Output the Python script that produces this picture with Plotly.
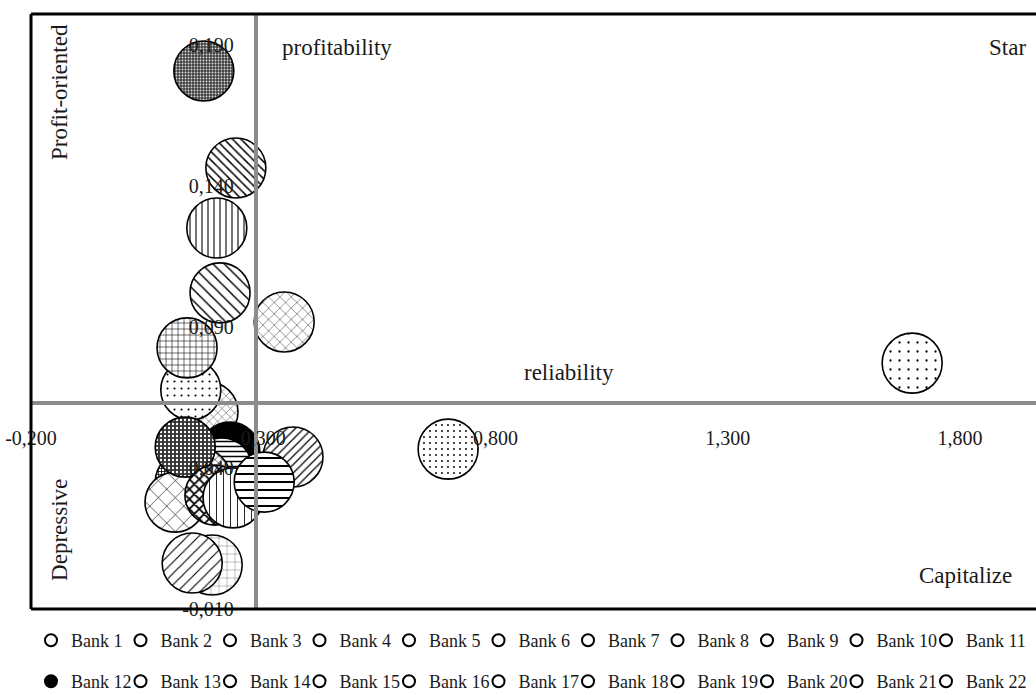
import numpy as np
import plotly.graph_objects as go

# ---------------- data ----------------
banks = [f"Bank {i}" for i in range(1, 23)]
reliability = [1.697, 0.172, 0.698, 0.181, 0.144, 0.136, 0.241, 0.207, 0.132, 0.200, 0.364,
               0.228, 0.211, 0.164, 0.110, 0.132, 0.196, 0.235, 0.190, 0.147, 0.345, 0.302]
profitability = [0.0772, 0.1808, 0.0467, 0.0599, 0.0677, 0.0826, 0.1464, 0.1021, 0.0350, 0.1251, 0.0439,
                 0.0457, 0.0400, 0.0365, 0.0279, 0.0474, 0.0304, 0.0294, 0.0056, 0.0063, 0.0918, 0.0350]
x_tickvals = [-0.2, 0.3, 0.8, 1.3, 1.8]
x_ticktext = ["-0,200", "0,300", "0,800", "1,300", "1,800"]
y_tickvals = [-0.01, 0.04, 0.09, 0.14, 0.19]
y_ticktext = ["-0,010", "0,040", "0,090", "0,140", "0,190"]
cross_x = 0.284   # where the vertical axis crosses
cross_y = 0.0629  # where the horizontal axis crosses

# ---------------- layout constants ----------------
W, H = 1036, 695
ML, MR, MT, MB = 31, 0, 14, 86
XR = [-0.2, 1.9636]
YR = [-0.01, 0.201]
BUBBLE_D = 60
plot_w = W - ML - MR
plot_h = H - MT - MB
rx = (BUBBLE_D / 2) / plot_w * (XR[1] - XR[0])
ry = (BUBBLE_D / 2) / plot_h * (YR[1] - YR[0])

SERIF = "Liberation Serif, Times New Roman, serif"

# pattern style per bank
styles = [
    dict(shape=".", size=9, solidity=0.05),
    dict(shape=".", size=3, solidity=0.3, bgcolor="#404040", fgcolor="#dddddd"),
    dict(shape=".", size=6, solidity=0.08),
    dict(shape="x", size=6, solidity=0.12),
    dict(shape=".", size=7, solidity=0.07),
    dict(shape="+", size=6, solidity=0.18),
    dict(shape="\\", size=6, solidity=0.25),
    dict(shape="\\", size=8, solidity=0.18),
    dict(shape="+", size=3, solidity=0.45),
    dict(shape="|", size=6, solidity=0.18),
    dict(shape="/", size=6, solidity=0.2),
    dict(shape="", bgcolor="black"),
    dict(shape="-", size=5, solidity=0.3),
    dict(shape="x", size=5, solidity=0.2),
    dict(shape="x", size=12, solidity=0.1),
    dict(shape=".", size=4, solidity=0.28, bgcolor="#333333", fgcolor="white"),
    dict(shape="x", size=7, solidity=0.45),
    dict(shape="|", size=7, solidity=0.12),
    dict(shape="+", size=8, solidity=0.06),
    dict(shape="/", size=8, solidity=0.14),
    dict(shape="x", size=8, solidity=0.1),
    dict(shape="-", size=8, solidity=0.25),
]

# legend grid: two rows of eleven entries
LEG_COLS = 11
LEG_X0, LEG_DX = 51, 89.5          # px of first symbol, px between entries
LEG_ROW_Y = [-0.053, -0.122]       # paper y of the two rows
SYMBOL_OFFSET = 20                 # plotly draws the symbol 20 px into the entry


def legend_id(i):
    return "legend" if i == 0 else f"legend{i + 1}"


t = np.linspace(0, 2 * np.pi, 90)
fig = go.Figure()
legend_layouts = {}
for i, (name, xv, yv, st) in enumerate(zip(banks, reliability, profitability, styles)):
    bg = st.get("bgcolor", "white")
    fp = dict(shape=st["shape"], bgcolor=bg, fgcolor=st.get("fgcolor", "black"),
              fillmode="replace")
    if st["shape"]:
        fp["size"] = st["size"]
        fp["solidity"] = st["solidity"]
    fig.add_trace(go.Scatter(
        x=xv + rx * np.cos(t), y=yv + ry * np.sin(t),
        mode="lines", fill="toself", fillcolor=bg, fillpattern=fp,
        line=dict(width=0), legendgroup=name, showlegend=False, hoverinfo="skip"))
    legend_fill = "black" if bg == "black" else "rgba(0,0,0,0)"
    lid = legend_id(i)
    fig.add_trace(go.Scatter(
        x=[xv], y=[yv], mode="markers", name=name, legendgroup=name, legend=lid,
        marker=dict(size=BUBBLE_D, symbol="circle", color=legend_fill,
                    line=dict(color="black", width=1.6)),
        hovertemplate=name + ": (%{x:.3f}, %{y:.3f})<extra></extra>"))
    row, col = divmod(i, LEG_COLS)
    px = LEG_X0 + col * LEG_DX - SYMBOL_OFFSET
    legend_layouts[lid] = dict(
        orientation="h", xanchor="left", yanchor="middle",
        x=(px - ML) / plot_w, y=LEG_ROW_Y[row],
        font=dict(family=SERIF, size=18, color="#1a1a1a"),
        itemsizing="constant", bgcolor="rgba(0,0,0,0)")

AXIS_GRAY = "#8c8c8c"
fig.update_layout(
    width=W, height=H, autosize=False,
    margin=dict(l=ML, r=MR, t=MT, b=MB, pad=0, autoexpand=False),
    paper_bgcolor="white", plot_bgcolor="white",
    font=dict(family=SERIF, size=20, color="#1a1a1a"),
    xaxis=dict(range=XR, showgrid=False, zeroline=False, showline=True,
               linecolor=AXIS_GRAY, linewidth=4, anchor="free",
               position=(cross_y - YR[0]) / (YR[1] - YR[0]),
               tickmode="array", tickvals=x_tickvals, ticktext=x_ticktext,
               ticks="", ticklabelstandoff=16, tickfont=dict(family=SERIF, size=20)),
    yaxis=dict(range=YR, showgrid=False, zeroline=False, showline=True,
               linecolor=AXIS_GRAY, linewidth=4, anchor="free",
               position=(cross_x - XR[0]) / (XR[1] - XR[0]),
               tickmode="array", tickvals=y_tickvals, ticktext=y_ticktext,
               ticks="", ticklabelstandoff=16, tickfont=dict(family=SERIF, size=20)),
    showlegend=True,
    **legend_layouts,
)

# plot frame (top, left, bottom)
frame = dict(type="line", xref="paper", yref="paper", line=dict(color="black", width=3), layer="above")
fig.add_shape(x0=0, x1=1.02, y0=1, y1=1, **frame)
fig.add_shape(x0=0, x1=0, y0=0, y1=1, **frame)
fig.add_shape(x0=0, x1=1.02, y0=0, y1=0, **frame)

ann_font = dict(family=SERIF, size=23, color="#1a1a1a")
ann = dict(showarrow=False, xanchor="center", yanchor="middle", font=ann_font)
fig.add_annotation(x=cross_x, y=0.943, xref="x", yref="paper", text="profitability",
                   **{**ann, "xanchor": "left"}, xshift=24)
fig.add_annotation(x=0.535, y=cross_y, xref="paper", yref="y", text="reliability",
                   yshift=31, **ann)
fig.add_annotation(x=0.992, y=0.943, xref="paper", yref="paper", text="Star",
                   **{**ann, "xanchor": "right"})
fig.add_annotation(x=0.930, y=0.057, xref="paper", yref="paper", text="Capitalize", **ann)
fig.add_annotation(x=0.0289, y=0.869, xref="paper", yref="paper", text="Profit-oriented",
                   textangle=-90, **ann)
fig.add_annotation(x=0.0289, y=0.133, xref="paper", yref="paper", text="Depressive",
                   textangle=-90, **ann)

fig.write_html("out.html", config={"displayModeBar": False},
               post_script="document.body.style.margin='0px';")
